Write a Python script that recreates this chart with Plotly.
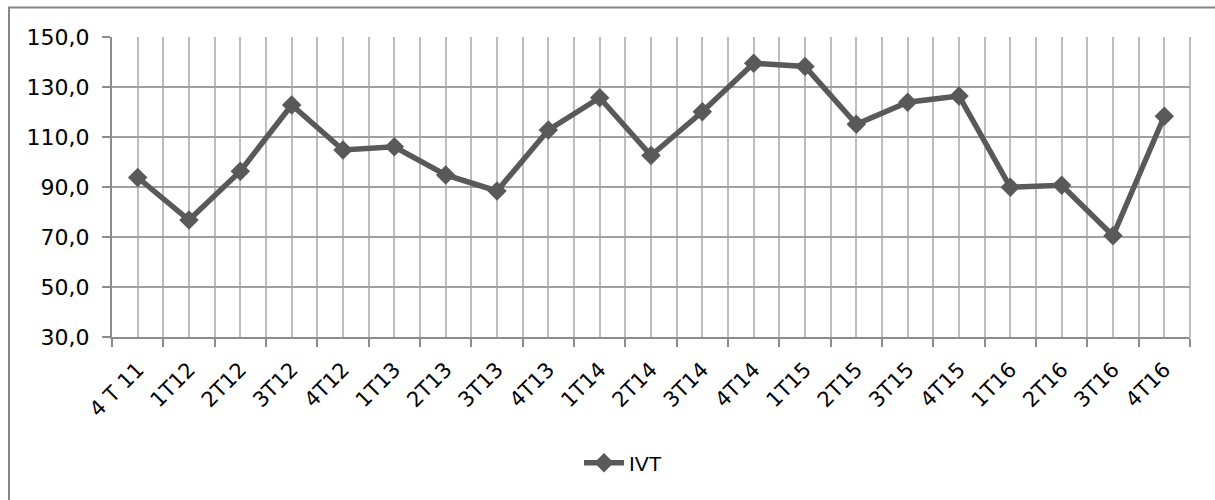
import plotly.graph_objects as go

categories = ["4 T 11", "1T12", "2T12", "3T12", "4T12", "1T13", "2T13", "3T13", "4T13",
              "1T14", "2T14", "3T14", "4T14", "1T15", "2T15", "3T15", "4T15",
              "1T16", "2T16", "3T16", "4T16"]
ivt = [93.8, 76.8, 96.3, 122.8, 104.8, 106.1, 94.8, 88.4, 112.8,
       125.7, 102.6, 120.1, 139.5, 138.2, 115.1, 123.9, 126.4,
       89.9, 90.7, 70.5, 118.3]
y_ticks = [30, 50, 70, 90, 110, 130, 150]

xpos = list(range(len(categories)))

L, R, T, B = 112, 25, 37, 163
W, H = 1215, 500
pw = W - L - R
ph = H - T - B

fig = go.Figure()
fig.add_trace(go.Scatter(
    x=xpos, y=ivt, name="IVT", mode="lines+markers",
    line=dict(color="#595959", width=5.5),
    marker=dict(symbol="diamond", size=15, color="#595959"),
))

fig.update_layout(
    width=W, height=H,
    margin=dict(l=L, r=R, t=T, b=B),
    paper_bgcolor="white", plot_bgcolor="white",
    separators=",.",
    showlegend=True,
    legend=dict(orientation="h", x=(623 - L) / pw, xanchor="center",
                y=(H - B - 463) / ph, yanchor="middle",
                font=dict(family="Liberation Sans", size=21, color="#000000"),
                itemwidth=40),
    shapes=[dict(type="path", xref="paper", yref="paper",
                 path=f"M {(9 - L) / pw} -1 L {(9 - L) / pw} {(H - B - 7.5) / ph} L 1.2 {(H - B - 7.5) / ph}",
                 line=dict(color="#868686", width=2))],
)

fig.update_xaxes(
    range=[-0.5, len(categories) - 0.5],
    tickmode="array", tickvals=xpos, ticktext=categories,
    tickangle=-45, ticks="", ticklabelstandoff=10,
    tickfont=dict(family="DejaVu Sans", size=21, color="#000000"),
    showgrid=True, gridcolor="#bdbdbd", gridwidth=2,
    showline=True, linecolor="#8c8c8c", linewidth=2,
    zeroline=False,
    minor=dict(tickmode="array", tickvals=[i - 0.5 for i in range(len(categories) + 1)],
               ticks="outside", ticklen=8, tickwidth=2, tickcolor="#8c8c8c",
               showgrid=True, gridcolor="#bdbdbd", gridwidth=2),
    mirror=False,
)
fig.update_yaxes(
    range=[30, 150], tickmode="array", tickvals=y_ticks, tickformat=".1f",
    tickfont=dict(family="DejaVu Sans", size=22, color="#000000"),
    ticklabelstandoff=8,
    showgrid=True, gridcolor="#a0a0a0", gridwidth=2,
    showline=True, linecolor="#8c8c8c", linewidth=2,
    ticks="outside", ticklen=8, tickwidth=2, tickcolor="#8c8c8c",
    zeroline=False,
)
# right border line of plot area
fig.add_shape(type="line", xref="paper", yref="paper", x0=1, x1=1, y0=0, y1=1,
              line=dict(color="#bdbdbd", width=2), layer="below")

fig.write_html("out.html", config={"displayModeBar": False},
               post_script="document.body.style.margin='0';")
